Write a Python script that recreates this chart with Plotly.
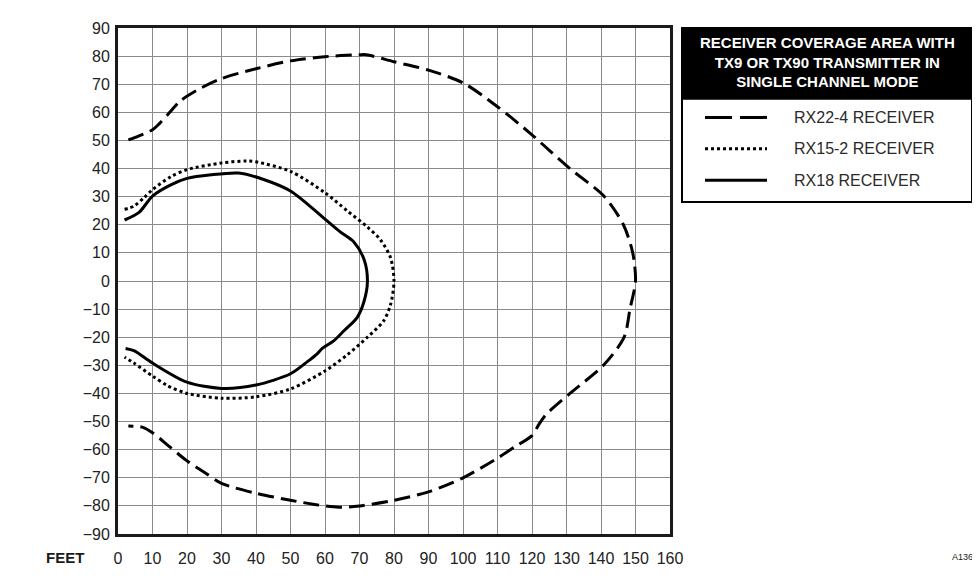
import plotly.graph_objects as go

# RX22-4 receiver (long dashes), traced clockwise from top-left
rx22_x = [3, 10, 12, 15, 18, 24, 30, 40, 50, 60, 70, 72, 80, 90, 100, 110, 120, 125, 131, 141,
          146.5, 149.2, 150, 148.4, 146.7, 140.7, 131, 124, 122, 120, 115, 110, 100, 90, 80, 70,
          64, 57, 50, 40, 30, 25, 20, 15, 10, 7, 3]
rx22_y = [50.2, 53.8, 56, 60, 64, 68.6, 72, 75.5, 78.3, 79.8, 80.5, 80.5, 78, 75, 70.5, 62, 52, 46.5, 40, 30,
          20, 10, 0, -10, -20, -30, -40, -47.6, -51, -55, -59, -63, -70, -75, -78, -80,
          -80.5, -79.5, -78, -75.5, -72, -68, -64, -59, -54, -52, -51.6]

# RX15-2 receiver (dotted)
rx15_x = [1.9, 4.6, 7.5, 10, 15.3, 20, 30, 37.3, 40, 50, 60, 66.4, 72.3, 76.1, 79, 80, 79, 77, 72.3,
          66.4, 60, 50, 40, 30, 20, 14.3, 10, 4.6, 1.9]
rx15_y = [25.5, 26.6, 29.6, 32.5, 37.1, 39.6, 42, 42.7, 42.4, 39, 31.4, 25, 19.2, 14.6, 8.3, 0, -8.4, -14.2, -20,
          -26.3, -32, -38.4, -41.2, -41.7, -40, -37.2, -33.8, -29.2, -27.1]

# RX18 receiver (solid)
rx18_x = [1.9, 6.1, 10, 15.3, 20, 27, 35, 42, 50, 60, 64.4, 68.3, 71.3, 72.3, 71.3, 69.3, 65.5, 62.6,
          59.2, 57.8, 55, 50, 40, 30, 20, 10, 4.6, 2.2]
rx18_y = [21.7, 24.4, 30.2, 34.2, 36.5, 37.8, 38.4, 36.2, 32, 22, 17.5, 14, 7.7, 0, -7.3, -13, -17.7, -21.2,
          -24, -25.8, -28.6, -33, -37, -38.2, -36, -29.2, -24.8, -24]

x_ticks = list(range(0, 161, 10))
y_ticks = list(range(-90, 91, 10))

legend_title = "RECEIVER COVERAGE AREA WITH<br>TX9 OR TX90 TRANSMITTER IN<br>SINGLE CHANNEL MODE"
legend_names = ["RX22-4 RECEIVER", "RX15-2 RECEIVER", "RX18 RECEIVER"]
legend_dash = ["16px,7px", "3px,3px", "solid"]
sample_dash = ["27px,8px", "3px,3px", "solid"]

FONT = "Liberation Sans, Arial, sans-serif"
INK = "#1a1a1a"

fig = go.Figure()

series = [(rx22_x, rx22_y), (rx15_x, rx15_y), (rx18_x, rx18_y)]
for (xs, ys), name, dash in zip(series, legend_names, legend_dash):
    fig.add_trace(go.Scatter(x=xs, y=ys, mode="lines", name=name, showlegend=False,
                             line=dict(color="black", width=3, dash=dash,
                                       shape="spline", smoothing=0.8)))

# page body has an 8px margin, so the figure is shrunk by that much
fig.update_layout(
    width=972, height=571,
    margin=dict(l=110, r=310, t=14, b=42),
    paper_bgcolor="white", plot_bgcolor="white",
    font=dict(family=FONT, size=16, color="#222222"),
)
fig.update_xaxes(range=[0, 160], tickvals=x_ticks, showgrid=True, gridcolor="#8a8a8a", gridwidth=1.3,
                 zeroline=False, showline=True, linecolor=INK, linewidth=3, mirror=True,
                 ticks="", ticklabelstandoff=8, fixedrange=True)
fig.update_yaxes(range=[-90, 90], tickvals=y_ticks, showgrid=True, gridcolor="#8a8a8a", gridwidth=1.3,
                 zeroline=False, showline=True, linecolor=INK, linewidth=3, mirror=True,
                 ticks="", ticklabelstandoff=2, fixedrange=True)

# custom legend box (positions given in page pixels of the reference)
def py(p):
    return (537 - p) / 515

def px(p):
    return (p - 118) / 552

fig.add_shape(type="rect", xref="paper", yref="paper", x0=px(682), x1=px(972), y0=py(199), y1=py(22),
              line=dict(color="black", width=2), fillcolor="white")
fig.add_shape(type="rect", xref="paper", yref="paper", x0=px(682), x1=px(972), y0=py(94), y1=py(22),
              line=dict(color="black", width=2), fillcolor="black")
fig.add_annotation(xref="paper", yref="paper", x=px(827), y=py(57), text="<b>" + legend_title + "</b>",
                   showarrow=False, xanchor="center", yanchor="middle",
                   font=dict(family=FONT, size=15, color="white"))
for i, (name, dash) in enumerate(zip(legend_names, sample_dash)):
    yy = py(113 + i * 32)
    fig.add_shape(type="line", xref="paper", yref="paper", x0=px(705), x1=px(767), y0=yy, y1=yy,
                  line=dict(color="black", width=3, dash=dash))
    fig.add_annotation(xref="paper", yref="paper", x=px(792), y=yy, text=name, showarrow=False,
                       xanchor="left", yanchor="middle", font=dict(family=FONT, size=16, color="#2a2a2a"))

fig.add_annotation(xref="paper", yref="paper", x=px(86), y=0, yshift=-23, text="<b>FEET</b>",
                   showarrow=False, xanchor="right", yanchor="middle",
                   font=dict(family=FONT, size=15, color=INK))
fig.add_annotation(xref="paper", yref="paper", x=px(962), y=0, yshift=-23, text="A136",
                   showarrow=False, xanchor="center", yanchor="middle",
                   font=dict(family=FONT, size=9, color=INK))

fig.write_html("out.html")
